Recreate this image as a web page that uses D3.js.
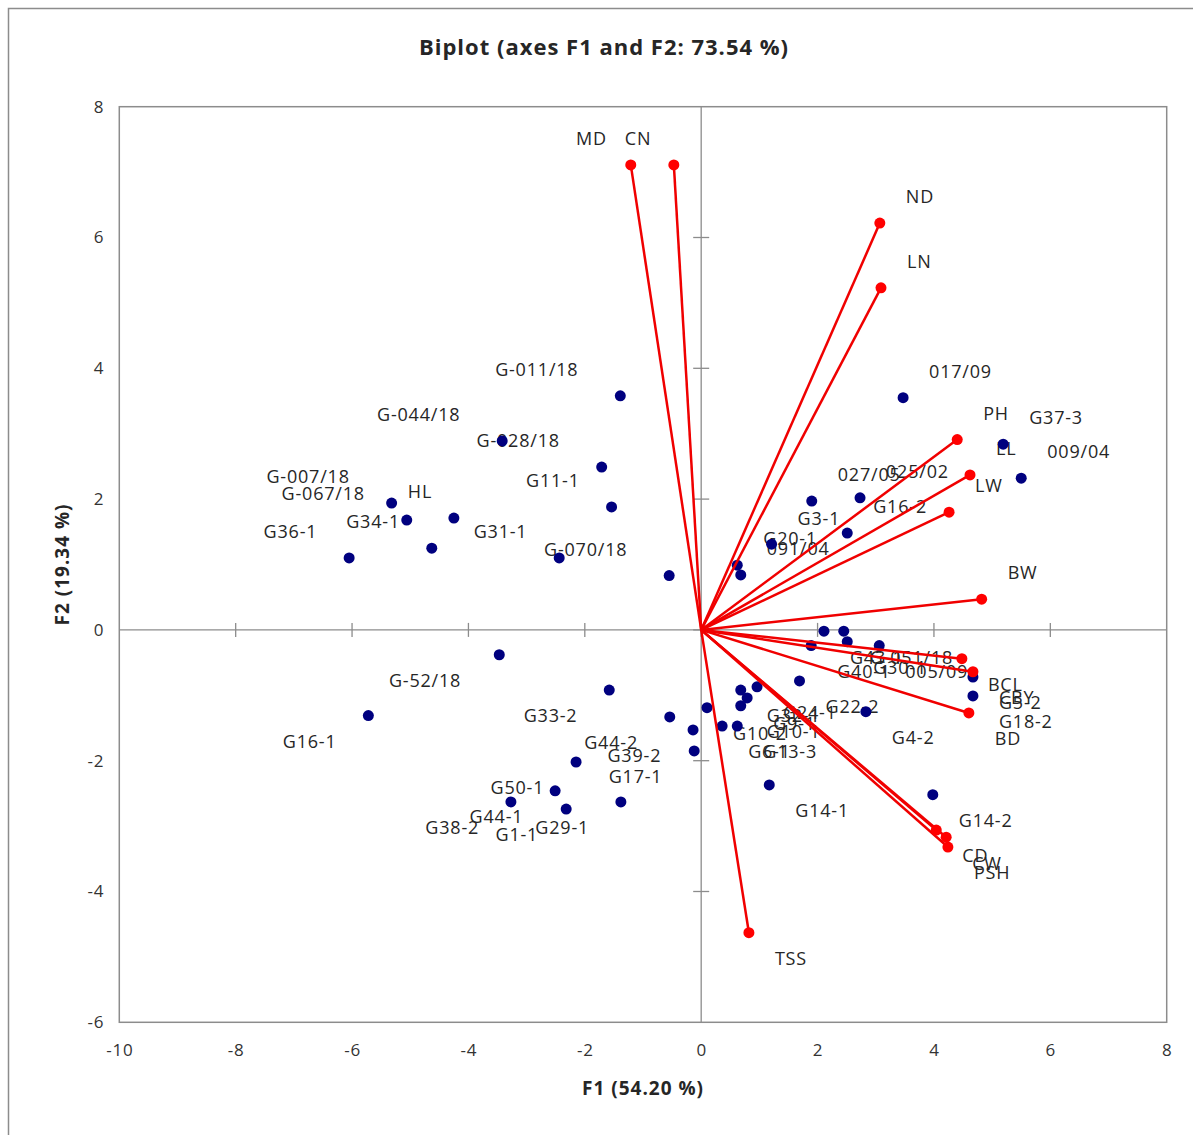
<!DOCTYPE html>
<html>
<head>
<meta charset="utf-8">
<script src="https://cdn.jsdelivr.net/npm/d3@7"></script>
<style>
  body { margin: 0; background: #fff; }
  text { font-family: "Open Sans", "DejaVu Sans", sans-serif; }
</style>
</head>
<body>
<div id="chart"></div>
<script>
// observations (blue points)
var obsNames = ['G-011/18','G-044/18','G-028/18','G-007/18','G-067/18','HL','G11-1','G34-1','G36-1','G31-1','G-070/18',
  '017/09','G37-3','009/04','027/05','025/02','G16-2','G3-1','G20-1','091/04',
  'G43-1','G-051/18','G30-1','G40-1','005/09','G5-2','G18-2','G22-2','G24-1','G32-1','G9-1','G10-1','G10-2','G4-2','G6-1','G13-3','G14-1','G14-2',
  'G-52/18','G33-2','G16-1','G44-2','G39-2','G17-1','G50-1','G44-1','G38-2','G1-1','G29-1']
var obsF1 = [-1.39,-3.42,-1.71,-5.32,-5.06,-4.25,-1.54,-4.63,-6.05,-2.44,-0.55,
  3.47,5.19,5.50,1.90,2.73,2.51,1.21,0.62,0.68,
  2.11,2.45,2.51,1.89,3.06,4.67,4.67,1.69,0.96,0.68,0.79,0.68,0.10,2.83,0.36,0.62,1.17,3.98,
  -3.47,-1.58,-5.72,-0.54,-0.14,-0.12,-2.15,-2.51,-3.27,-2.32,-1.38]
var obsF2 = [3.58,2.89,2.49,1.94,1.68,1.71,1.88,1.25,1.10,1.10,0.83,
  3.55,2.84,2.32,1.97,2.02,1.48,1.31,0.99,0.84,
  -0.02,-0.02,-0.18,-0.24,-0.24,-0.72,-1.01,-0.78,-0.87,-0.92,-1.04,-1.16,-1.19,-1.25,-1.47,-1.47,-2.37,-2.52,
  -0.38,-0.92,-1.31,-1.33,-1.53,-1.85,-2.02,-2.46,-2.63,-2.74,-2.63]

// variables (red vectors)
var varNames = ['MD','CN','ND','LN','PH','LL','LW','BW','BCL','CBY','BD','CD','CW','PSH','TSS']
var varF1 = [-1.21,-0.47,3.07,3.09,4.40,4.62,4.26,4.82,4.48,4.67,4.60,4.04,4.21,4.24,0.82]
var varF2 = [7.11,7.11,6.22,5.23,2.91,2.37,1.80,0.47,-0.44,-0.64,-1.27,-3.06,-3.17,-3.32,-4.63]

var xTicks = [-10,-8,-6,-4,-2,0,2,4,6,8]
var yTicks = [-6,-4,-2,0,2,4,6,8]

var chartTitle = 'Biplot (axes F1 and F2: 73.54 %)'
var xTitle = 'F1 (54.20 %)'
var yTitle = 'F2 (19.34 %)'

var width = 1193, height = 1135
var plotL = 119.3, plotR = 1166.7, plotT = 106.7, plotB = 1022.3

var svg = d3.select('#chart').append('svg')
    .attr('width', width)
    .attr('height', height)

// outer chart border (runs off the right and bottom of the picture)
svg.append('rect')
    .attr('x', 8.5).attr('y', 8.5)
    .attr('width', 1200).attr('height', 1140)
    .attr('fill', 'none').attr('stroke', '#8c8c8c').attr('stroke-width', 1.5)

var x = d3.scaleLinear().domain([-10, 8]).range([plotL, plotR])
var y = d3.scaleLinear().domain([-6, 8]).range([plotB, plotT])

var obs = obsNames.map(function (n, i) { return { name: n, f1: obsF1[i], f2: obsF2[i] } })
var vars = varNames.map(function (n, i) { return { name: n, f1: varF1[i], f2: varF2[i] } })

// plot frame
svg.append('rect')
    .attr('x', plotL).attr('y', plotT)
    .attr('width', plotR - plotL).attr('height', plotB - plotT)
    .attr('fill', 'none').attr('stroke', '#8c8c8c').attr('stroke-width', 1.5)

// tick labels on the frame (plain hyphen, like the original)
var fmt = function (d) { return String(d) }

svg.append('g')
    .attr('transform', 'translate(0,' + plotB + ')')
    .call(d3.axisBottom(x).tickValues(xTicks).tickSize(0).tickPadding(22).tickFormat(fmt))
    .call(function (g) { g.select('.domain').remove() })
    .selectAll('text')
    .attr('font-size', 17).attr('fill', '#333').attr('letter-spacing', 0.8)
    .style('font-family', '"Open Sans", sans-serif')

svg.append('g')
    .attr('transform', 'translate(' + plotL + ',0)')
    .call(d3.axisLeft(y).tickValues(yTicks).tickSize(0).tickPadding(15).tickFormat(fmt))
    .call(function (g) { g.select('.domain').remove() })
    .selectAll('text')
    .attr('font-size', 17).attr('fill', '#333').attr('letter-spacing', 0.8)
    .style('font-family', '"Open Sans", sans-serif')

// zero axes with crossing tick marks
var axes = svg.append('g').attr('stroke', '#8c8c8c').attr('stroke-width', 1.3)
axes.append('line').attr('x1', plotL).attr('x2', plotR).attr('y1', y(0)).attr('y2', y(0))
axes.append('line').attr('x1', x(0)).attr('x2', x(0)).attr('y1', plotT).attr('y2', plotB)
axes.selectAll('.xt').data(xTicks.slice(1, -1)).enter().append('line')
    .attr('x1', function (d) { return x(d) }).attr('x2', function (d) { return x(d) })
    .attr('y1', y(0) - 7).attr('y2', y(0) + 7)
axes.selectAll('.yt').data(yTicks.slice(1, -1)).enter().append('line')
    .attr('x1', x(0) - 8).attr('x2', x(0) + 8)
    .attr('y1', function (d) { return y(d) }).attr('y2', function (d) { return y(d) })

// labels: offset away from the origin, by quadrant
function placeLabel(d) {
    var t = d3.select(this)
    var px = x(d.f1), py = y(d.f2)
    t.text(d.name)
        .attr('y', py + (d.f2 >= 0 ? -26 : 26))
        .attr('dy', '0.35em')
    var w = this.getComputedTextLength()
    if (d.f1 >= 0) {
        t.attr('x', px + 26).attr('text-anchor', 'start')
    } else {
        t.attr('x', px - 13.5 - 0.84 * w).attr('text-anchor', 'middle')
    }
}

var labels = svg.append('g').attr('font-size', 18).attr('letter-spacing', 0.8).attr('fill', '#262626')
labels.selectAll('.obs-label').data(obs).enter().append('text')
    .attr('class', 'obs-label').each(placeLabel)
labels.selectAll('.var-label').data(vars).enter().append('text')
    .attr('class', 'var-label').each(placeLabel)

// observation points
svg.append('g').selectAll('circle')
    .data(obs).enter().append('circle')
    .attr('cx', function (d) { return x(d.f1) })
    .attr('cy', function (d) { return y(d.f2) })
    .attr('r', 5.5)
    .attr('fill', '#00007f')

// variable vectors
svg.append('g').selectAll('line')
    .data(vars).enter().append('line')
    .attr('x1', x(0)).attr('y1', y(0))
    .attr('x2', function (d) { return x(d.f1) })
    .attr('y2', function (d) { return y(d.f2) })
    .attr('stroke', '#f00000').attr('stroke-width', 2.5)

svg.append('g').selectAll('circle')
    .data(vars).enter().append('circle')
    .attr('cx', function (d) { return x(d.f1) })
    .attr('cy', function (d) { return y(d.f2) })
    .attr('r', 5.5)
    .attr('fill', '#ff0000')

// titles
svg.append('text')
    .attr('x', 604).attr('y', 55)
    .attr('text-anchor', 'middle')
    .attr('font-size', 22).attr('letter-spacing', 1).attr('font-weight', 'bold').attr('fill', '#262626')
    .text(chartTitle)

svg.append('text')
    .attr('x', (plotL + plotR) / 2).attr('y', 1095)
    .attr('text-anchor', 'middle')
    .attr('font-size', 19).attr('letter-spacing', 1).attr('font-weight', 'bold').attr('fill', '#262626')
    .text(xTitle)

svg.append('text')
    .attr('transform', 'translate(69,' + (plotT + plotB) / 2 + ') rotate(-90)')
    .attr('text-anchor', 'middle')
    .attr('font-size', 19).attr('letter-spacing', 1).attr('font-weight', 'bold').attr('fill', '#262626')
    .text(yTitle)
</script>
</body>
</html>
